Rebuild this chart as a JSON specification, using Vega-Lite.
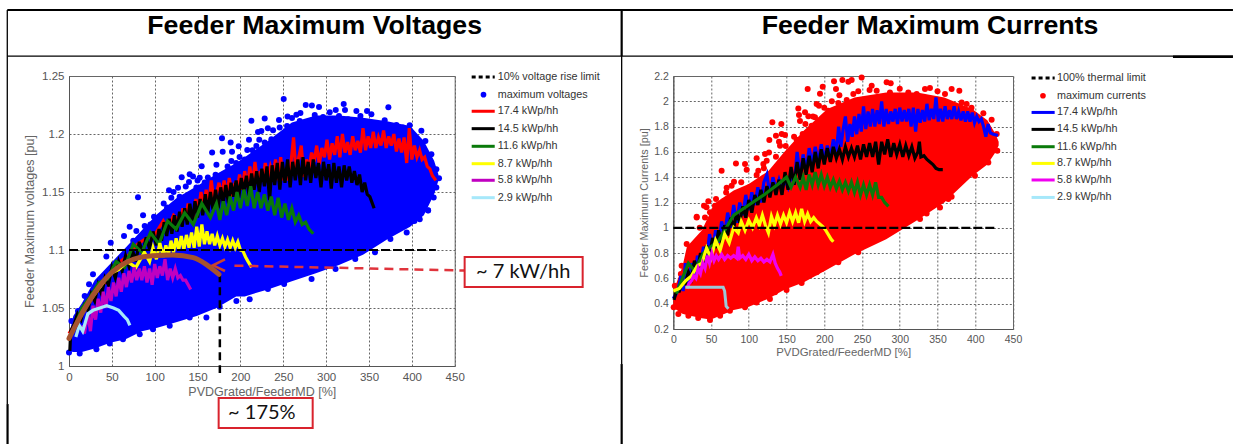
{"$schema":"https://vega.github.io/schema/vega-lite/v6.json","background":"white","padding":{"left":5,"top":8,"right":0,"bottom":0},"bounds":"flush","spacing":218.3,"resolve":{"scale":{"color":"independent"}},"config":{"font":"Liberation Sans","axis":{"grid":true,"gridDash":[2,2],"gridColor":"#666","gridOpacity":1,"gridWidth":1,"domainColor":"#555","ticks":false,"labelColor":"#555","titleColor":"#666","labelFontSize":10.5,"titleFontSize":11,"titleFontWeight":"normal","labelPadding":5,"labelFlush":false,"labelOverlap":false},"view":{"stroke":"#666"}},"hconcat":[{"width":385.7,"height":290,"encoding":{"x":{"field":"x","type":"quantitative","scale":{"domain":[0,450],"nice":false,"zero":false},"axis":{"values":[0,50,100,150,200,250,300,350,400,450],"title":"PVDGrated/FeederMD [%]","titlePadding":3,"titleFontSize":12.5,"labelFontSize":11.5}},"y":{"field":"y","type":"quantitative","scale":{"domain":[1,1.25],"nice":false,"zero":false},"axis":{"values":[1,1.05,1.1,1.15,1.2,1.25],"format":"~g","title":"Feeder Maximum voltages [pu]","titlePadding":5,"titleFontSize":12.6,"labelFontSize":11.5}}},"layer":[{"mark":{"type":"area","opacity":1,"color":"#0000ff"},"data":{"values":[{"x":0,"y":1.013,"y2":1.026},{"x":5,"y":1.012,"y2":1.043},{"x":15,"y":1.012,"y2":1.054},{"x":30,"y":1.015,"y2":1.074},{"x":48,"y":1.02,"y2":1.088},{"x":66,"y":1.023,"y2":1.102},{"x":85,"y":1.03,"y2":1.117},{"x":103,"y":1.033,"y2":1.131},{"x":126,"y":1.038,"y2":1.145},{"x":149,"y":1.043,"y2":1.155},{"x":172,"y":1.05,"y2":1.1655},{"x":195,"y":1.06,"y2":1.175},{"x":205,"y":1.06,"y2":1.18},{"x":232,"y":1.066,"y2":1.194},{"x":260,"y":1.073,"y2":1.21},{"x":288,"y":1.08,"y2":1.216},{"x":315,"y":1.087,"y2":1.216},{"x":343,"y":1.096,"y2":1.214},{"x":371,"y":1.109,"y2":1.211},{"x":398,"y":1.12,"y2":1.207},{"x":414,"y":1.13,"y2":1.194},{"x":426,"y":1.148,"y2":1.177},{"x":431,"y":1.16,"y2":1.165}]},"encoding":{"y2":{"field":"y2"}}},{"mark":{"type":"point","filled":true,"size":36,"opacity":1,"color":"#0000ff"},"data":{"values":[{"x":80.5,"y":1.1455},{"x":86.4,"y":1.13},{"x":212.8,"y":1.2115},{"x":220.5,"y":1.2018},{"x":178.5,"y":1.1963},{"x":188.6,"y":1.1926},{"x":198,"y":1.1894},{"x":167,"y":1.184},{"x":179.3,"y":1.1846},{"x":190.2,"y":1.1846},{"x":208,"y":1.1863},{"x":214,"y":1.186},{"x":199,"y":1.1802},{"x":189.4,"y":1.1768},{"x":172,"y":1.1734},{"x":154.8,"y":1.1722},{"x":140.8,"y":1.1653},{"x":144.7,"y":1.1633},{"x":131.5,"y":1.1627},{"x":152.5,"y":1.1622},{"x":162,"y":1.1625},{"x":140,"y":1.1587},{"x":158.3,"y":1.1582},{"x":171,"y":1.1648},{"x":127.2,"y":1.1536},{"x":116.7,"y":1.1516},{"x":136.2,"y":1.1547},{"x":148.6,"y":1.1538},{"x":119.4,"y":1.145},{"x":129.1,"y":1.1458},{"x":110.5,"y":1.14},{"x":114.4,"y":1.1366},{"x":99.2,"y":1.1286},{"x":105.8,"y":1.128},{"x":168,"y":1.1538},{"x":179.7,"y":1.1567},{"x":191.4,"y":1.1653},{"x":201,"y":1.1625},{"x":218.6,"y":1.1897},{"x":185,"y":1.172},{"x":195,"y":1.175},{"x":205,"y":1.178},{"x":210,"y":1.195},{"x":222,"y":1.195},{"x":232,"y":1.205},{"x":245,"y":1.212},{"x":255,"y":1.215},{"x":270,"y":1.218},{"x":150,"y":1.16},{"x":122,"y":1.15},{"x":95,"y":1.122},{"x":75,"y":1.108},{"x":250.5,"y":1.2302},{"x":276.2,"y":1.225},{"x":283.4,"y":1.2245},{"x":291.7,"y":1.2233},{"x":228.3,"y":1.2133},{"x":320.5,"y":1.2259},{"x":322,"y":1.2207},{"x":372.6,"y":1.223},{"x":265.3,"y":1.2167},{"x":260.2,"y":1.2138},{"x":286.7,"y":1.2164},{"x":304.2,"y":1.2187},{"x":311.2,"y":1.2207},{"x":315,"y":1.2156},{"x":335.3,"y":1.2199},{"x":347.7,"y":1.2199},{"x":340,"y":1.2156},{"x":352.8,"y":1.217},{"x":296.4,"y":1.2147},{"x":278.9,"y":1.2098},{"x":269.2,"y":1.2113},{"x":245.8,"y":1.2055},{"x":238.1,"y":1.2032},{"x":254.4,"y":1.2069},{"x":411.1,"y":1.2029},{"x":368.3,"y":1.2118},{"x":382,"y":1.2078},{"x":397.5,"y":1.2075},{"x":389.7,"y":1.2055},{"x":325.6,"y":1.2127},{"x":335.3,"y":1.2098},{"x":224.4,"y":1.2026},{"x":236.1,"y":1.1955},{"x":228.3,"y":1.1926},{"x":265.3,"y":1.2026},{"x":415.8,"y":1.194},{"x":422.8,"y":1.1826},{"x":428.6,"y":1.1696},{"x":431.7,"y":1.1619},{"x":428.6,"y":1.1539},{"x":425.5,"y":1.1452},{"x":418.9,"y":1.1343},{"x":409.2,"y":1.1266},{"x":48.7,"y":1.1063},{"x":70.8,"y":1.1201},{"x":64.2,"y":1.1121},{"x":78.6,"y":1.1164},{"x":88.3,"y":1.1207},{"x":43.6,"y":1.0943},{"x":28,"y":1.0791},{"x":23.4,"y":1.0705},{"x":18.3,"y":1.0604},{"x":10.5,"y":1.0475},{"x":2.8,"y":1.0389},{"x":0,"y":1.0116},{"x":12.5,"y":1.0108},{"x":32,"y":1.0145},{"x":47.5,"y":1.0194},{"x":63,"y":1.0231},{"x":82.5,"y":1.0274},{"x":98,"y":1.0317},{"x":117.5,"y":1.0346},{"x":140.8,"y":1.0418},{"x":160.3,"y":1.0418},{"x":175.8,"y":1.051},{"x":195.3,"y":1.0561},{"x":210.8,"y":1.0576},{"x":232,"y":1.0664},{"x":251,"y":1.0707},{"x":283,"y":1.075},{"x":311,"y":1.0836},{"x":334,"y":1.0922},{"x":357,"y":1.098},{"x":375,"y":1.1095},{"x":394,"y":1.115},{"x":403,"y":1.125},{"x":419,"y":1.134}]}},{"mark":{"type":"line","strokeWidth":3.2,"color":"#ff0000"},"data":{"values":[{"x":0,"y":1.028},{"x":10,"y":1.04},{"x":20,"y":1.05},{"x":30,"y":1.062},{"x":40,"y":1.07},{"x":50,"y":1.08},{"x":60,"y":1.09},{"x":70,"y":1.096},{"x":80,"y":1.105},{"x":90,"y":1.11},{"x":100,"y":1.113},{"x":110,"y":1.125},{"x":115,"y":1.118},{"x":122,"y":1.13},{"x":130,"y":1.124},{"x":133,"y":1.136},{"x":136,"y":1.126},{"x":139,"y":1.14},{"x":142,"y":1.13},{"x":145,"y":1.128},{"x":148,"y":1.144},{"x":151,"y":1.133},{"x":154,"y":1.15},{"x":157,"y":1.136},{"x":160,"y":1.152},{"x":163,"y":1.14},{"x":166,"y":1.16},{"x":169,"y":1.142},{"x":172,"y":1.148},{"x":175,"y":1.158},{"x":178,"y":1.146},{"x":181,"y":1.16},{"x":184,"y":1.147},{"x":187,"y":1.162},{"x":190,"y":1.15},{"x":193,"y":1.156},{"x":196,"y":1.15},{"x":199,"y":1.165},{"x":202,"y":1.152},{"x":205,"y":1.168},{"x":208,"y":1.154},{"x":211,"y":1.172},{"x":214,"y":1.156},{"x":217,"y":1.176},{"x":220,"y":1.158},{"x":223,"y":1.168},{"x":226,"y":1.16},{"x":229,"y":1.175},{"x":232,"y":1.162},{"x":235,"y":1.172},{"x":238,"y":1.165},{"x":241,"y":1.178},{"x":244,"y":1.16},{"x":247,"y":1.18},{"x":250,"y":1.16},{"x":253,"y":1.17},{"x":256,"y":1.16},{"x":259,"y":1.175},{"x":262,"y":1.197},{"x":265,"y":1.165},{"x":268,"y":1.18},{"x":271,"y":1.19},{"x":274,"y":1.163},{"x":277,"y":1.178},{"x":280,"y":1.17},{"x":283,"y":1.184},{"x":286,"y":1.176},{"x":289,"y":1.19},{"x":292,"y":1.174},{"x":295,"y":1.188},{"x":298,"y":1.18},{"x":301,"y":1.195},{"x":304,"y":1.178},{"x":307,"y":1.192},{"x":310,"y":1.182},{"x":313,"y":1.198},{"x":316,"y":1.18},{"x":319,"y":1.2},{"x":322,"y":1.184},{"x":325,"y":1.193},{"x":328,"y":1.182},{"x":331,"y":1.198},{"x":334,"y":1.186},{"x":337,"y":1.194},{"x":340,"y":1.184},{"x":343,"y":1.205},{"x":346,"y":1.186},{"x":349,"y":1.198},{"x":352,"y":1.188},{"x":355,"y":1.202},{"x":358,"y":1.188},{"x":361,"y":1.197},{"x":364,"y":1.19},{"x":367,"y":1.203},{"x":370,"y":1.188},{"x":373,"y":1.198},{"x":376,"y":1.19},{"x":379,"y":1.2},{"x":382,"y":1.185},{"x":385,"y":1.196},{"x":388,"y":1.184},{"x":391,"y":1.197},{"x":394,"y":1.175},{"x":397,"y":1.205},{"x":400,"y":1.178},{"x":403,"y":1.19},{"x":406,"y":1.18},{"x":409,"y":1.186},{"x":412,"y":1.178},{"x":415,"y":1.18},{"x":418,"y":1.172},{"x":421,"y":1.17},{"x":424,"y":1.164},{"x":428,"y":1.16}]}},{"mark":{"type":"line","strokeWidth":3.2,"color":"#000000"},"data":{"values":[{"x":1,"y":1.013},{"x":2,"y":1.03},{"x":6,"y":1.036},{"x":10,"y":1.045},{"x":14,"y":1.04},{"x":18,"y":1.052},{"x":22,"y":1.048},{"x":26,"y":1.062},{"x":30,"y":1.056},{"x":34,"y":1.07},{"x":38,"y":1.062},{"x":42,"y":1.076},{"x":46,"y":1.07},{"x":50,"y":1.085},{"x":54,"y":1.076},{"x":58,"y":1.09},{"x":62,"y":1.082},{"x":66,"y":1.095},{"x":70,"y":1.086},{"x":74,"y":1.1},{"x":78,"y":1.09},{"x":82,"y":1.107},{"x":86,"y":1.097},{"x":90,"y":1.111},{"x":94,"y":1.101},{"x":98,"y":1.116},{"x":102,"y":1.104},{"x":105,"y":1.118},{"x":108,"y":1.108},{"x":111,"y":1.124},{"x":114,"y":1.112},{"x":117,"y":1.127},{"x":120,"y":1.114},{"x":123,"y":1.13},{"x":126,"y":1.116},{"x":129,"y":1.133},{"x":132,"y":1.12},{"x":135,"y":1.136},{"x":138,"y":1.122},{"x":141,"y":1.14},{"x":144,"y":1.124},{"x":147,"y":1.142},{"x":150,"y":1.128},{"x":153,"y":1.144},{"x":156,"y":1.13},{"x":159,"y":1.148},{"x":162,"y":1.132},{"x":165,"y":1.15},{"x":168,"y":1.135},{"x":171,"y":1.152},{"x":174,"y":1.136},{"x":177,"y":1.154},{"x":180,"y":1.14},{"x":183,"y":1.156},{"x":186,"y":1.14},{"x":189,"y":1.158},{"x":192,"y":1.146},{"x":195,"y":1.16},{"x":198,"y":1.145},{"x":201,"y":1.162},{"x":204,"y":1.15},{"x":207,"y":1.164},{"x":210,"y":1.147},{"x":213,"y":1.166},{"x":216,"y":1.152},{"x":219,"y":1.168},{"x":222,"y":1.15},{"x":225,"y":1.17},{"x":228,"y":1.155},{"x":231,"y":1.172},{"x":234,"y":1.143},{"x":237,"y":1.173},{"x":240,"y":1.156},{"x":243,"y":1.175},{"x":246,"y":1.152},{"x":249,"y":1.176},{"x":252,"y":1.158},{"x":255,"y":1.178},{"x":258,"y":1.154},{"x":261,"y":1.176},{"x":264,"y":1.16},{"x":267,"y":1.178},{"x":270,"y":1.156},{"x":273,"y":1.18},{"x":276,"y":1.16},{"x":279,"y":1.176},{"x":282,"y":1.158},{"x":285,"y":1.178},{"x":288,"y":1.162},{"x":291,"y":1.175},{"x":294,"y":1.154},{"x":297,"y":1.176},{"x":300,"y":1.16},{"x":303,"y":1.174},{"x":306,"y":1.153},{"x":309,"y":1.175},{"x":312,"y":1.158},{"x":315,"y":1.172},{"x":318,"y":1.154},{"x":321,"y":1.173},{"x":324,"y":1.16},{"x":327,"y":1.172},{"x":330,"y":1.158},{"x":333,"y":1.168},{"x":336,"y":1.156},{"x":339,"y":1.165},{"x":342,"y":1.15},{"x":345,"y":1.158},{"x":348,"y":1.148},{"x":351,"y":1.146},{"x":354,"y":1.14},{"x":356,"y":1.136}]}},{"mark":{"type":"line","strokeWidth":3.2,"color":"#0a7a0a"},"data":{"values":[{"x":5,"y":1.03},{"x":15,"y":1.05},{"x":25,"y":1.06},{"x":35,"y":1.072},{"x":45,"y":1.075},{"x":55,"y":1.09},{"x":65,"y":1.085},{"x":75,"y":1.105},{"x":85,"y":1.098},{"x":95,"y":1.115},{"x":105,"y":1.105},{"x":115,"y":1.125},{"x":125,"y":1.118},{"x":135,"y":1.132},{"x":145,"y":1.122},{"x":155,"y":1.14},{"x":165,"y":1.128},{"x":172,"y":1.14},{"x":176,"y":1.126},{"x":180,"y":1.142},{"x":184,"y":1.13},{"x":188,"y":1.146},{"x":192,"y":1.134},{"x":196,"y":1.15},{"x":200,"y":1.136},{"x":204,"y":1.152},{"x":208,"y":1.138},{"x":212,"y":1.155},{"x":216,"y":1.136},{"x":220,"y":1.15},{"x":224,"y":1.136},{"x":228,"y":1.148},{"x":232,"y":1.134},{"x":236,"y":1.146},{"x":240,"y":1.13},{"x":244,"y":1.145},{"x":248,"y":1.128},{"x":252,"y":1.14},{"x":256,"y":1.126},{"x":260,"y":1.136},{"x":264,"y":1.124},{"x":268,"y":1.13},{"x":272,"y":1.122},{"x":276,"y":1.124},{"x":280,"y":1.118},{"x":285,"y":1.114}]}},{"mark":{"type":"line","strokeWidth":3.2,"color":"#ffff00"},"data":{"values":[{"x":8,"y":1.035},{"x":18,"y":1.05},{"x":28,"y":1.06},{"x":38,"y":1.07},{"x":48,"y":1.08},{"x":58,"y":1.083},{"x":68,"y":1.09},{"x":78,"y":1.085},{"x":88,"y":1.098},{"x":94,"y":1.09},{"x":98,"y":1.102},{"x":102,"y":1.092},{"x":106,"y":1.106},{"x":110,"y":1.094},{"x":113,"y":1.104},{"x":116,"y":1.096},{"x":119,"y":1.108},{"x":122,"y":1.098},{"x":125,"y":1.11},{"x":128,"y":1.1},{"x":131,"y":1.112},{"x":134,"y":1.1},{"x":137,"y":1.113},{"x":140,"y":1.102},{"x":143,"y":1.115},{"x":146,"y":1.102},{"x":149,"y":1.12},{"x":152,"y":1.103},{"x":155,"y":1.122},{"x":158,"y":1.105},{"x":161,"y":1.116},{"x":164,"y":1.105},{"x":167,"y":1.114},{"x":170,"y":1.104},{"x":173,"y":1.112},{"x":176,"y":1.104},{"x":179,"y":1.11},{"x":182,"y":1.103},{"x":185,"y":1.109},{"x":188,"y":1.102},{"x":191,"y":1.108},{"x":194,"y":1.102},{"x":197,"y":1.107},{"x":200,"y":1.1},{"x":203,"y":1.099},{"x":206,"y":1.094},{"x":209,"y":1.09},{"x":213,"y":1.085}]}},{"mark":{"type":"line","strokeWidth":3.2,"color":"#c000c0"},"data":{"values":[{"x":15,"y":1.035},{"x":18,"y":1.028},{"x":22,"y":1.045},{"x":25,"y":1.03},{"x":28,"y":1.052},{"x":31,"y":1.04},{"x":34,"y":1.058},{"x":37,"y":1.046},{"x":40,"y":1.064},{"x":43,"y":1.05},{"x":46,"y":1.068},{"x":49,"y":1.056},{"x":52,"y":1.072},{"x":55,"y":1.06},{"x":58,"y":1.076},{"x":61,"y":1.064},{"x":64,"y":1.08},{"x":67,"y":1.068},{"x":70,"y":1.082},{"x":73,"y":1.072},{"x":76,"y":1.085},{"x":79,"y":1.074},{"x":82,"y":1.084},{"x":85,"y":1.074},{"x":88,"y":1.086},{"x":91,"y":1.072},{"x":94,"y":1.084},{"x":97,"y":1.07},{"x":100,"y":1.088},{"x":103,"y":1.076},{"x":106,"y":1.086},{"x":109,"y":1.078},{"x":112,"y":1.092},{"x":115,"y":1.074},{"x":118,"y":1.084},{"x":121,"y":1.076},{"x":124,"y":1.084},{"x":127,"y":1.076},{"x":130,"y":1.078},{"x":133,"y":1.074},{"x":136,"y":1.074},{"x":139,"y":1.07},{"x":142,"y":1.066}]}},{"mark":{"type":"line","strokeWidth":3.2,"color":"#a6e8fa"},"data":{"values":[{"x":8,"y":1.025},{"x":12,"y":1.035},{"x":16,"y":1.03},{"x":22,"y":1.045},{"x":28,"y":1.048},{"x":36,"y":1.05},{"x":44,"y":1.052},{"x":52,"y":1.05},{"x":58,"y":1.048},{"x":64,"y":1.043},{"x":68,"y":1.04},{"x":71,"y":1.035}]}},{"mark":{"type":"line","strokeWidth":2.2,"strokeDash":[9,3],"color":"#000000"},"data":{"values":[{"x":0,"y":1.1},{"x":428,"y":1.1}]}},{"mark":{"type":"line","color":"#000","strokeWidth":2.5,"strokeDash":[8,5]},"data":{"values":[{"x":176,"y":1.079},{"x":176,"y":0.994}]}},{"mark":{"type":"line","color":"#e0343c","strokeWidth":2.5,"strokeDash":[9,6]},"data":{"values":[{"x":193,"y":1.0865},{"x":470,"y":1.0822}]}},{"mark":{"type":"line","color":"#a5522d","strokeWidth":5,"strokeCap":"round","interpolate":"monotone"},"data":{"values":[{"x":0,"y":1.0237},{"x":12.4,"y":1.0417},{"x":28,"y":1.061},{"x":43.5,"y":1.076},{"x":59,"y":1.086},{"x":75,"y":1.092},{"x":98,"y":1.095},{"x":121,"y":1.0957},{"x":145,"y":1.0934},{"x":160,"y":1.0876},{"x":175,"y":1.079}]}},{"mark":{"type":"line","color":"#c8452e","strokeWidth":2.5},"data":{"values":[{"i":1,"x":182,"y":1.092},{"i":2,"x":168,"y":1.0868},{"i":3,"x":182,"y":1.0819}]},"encoding":{"order":{"field":"i"}}},{"mark":{"type":"rect","fill":"white","stroke":"#d9232d","strokeWidth":2},"data":{"values":[{"x":461.6,"x2":599.3,"y":1.094,"y2":1.068},{"x":174.6,"x2":284.3,"y":0.9724,"y2":0.9466}]},"encoding":{"x2":{"field":"x2"},"y2":{"field":"y2"}}},{"mark":{"type":"text","font":"Lato","fontSize":20,"color":"#111","align":"center","baseline":"middle"},"data":{"values":[{"x":530,"y":1.081,"t":"~ 7 kW/hh"},{"x":225,"y":0.9595,"t":"~ 175%"}]},"encoding":{"text":{"field":"t"}}},{"mark":{"type":"rule","strokeWidth":3},"data":{"values":[{"x":469.8,"x2":496.7,"y":1.2196,"t":"17.4 kWp/hh"},{"x":469.8,"x2":496.7,"y":1.2046,"t":"14.5 kWp/hh"},{"x":469.8,"x2":496.7,"y":1.1894,"t":"11.6 kWp/hh"},{"x":469.8,"x2":496.7,"y":1.1744,"t":"8.7 kWp/hh"},{"x":469.8,"x2":496.7,"y":1.1601,"t":"5.8 kWp/hh"},{"x":469.8,"x2":496.7,"y":1.1451,"t":"2.9 kWp/hh"}]},"encoding":{"x2":{"field":"x2"},"color":{"field":"t","type":"nominal","legend":null,"scale":{"domain":["17.4 kWp/hh","14.5 kWp/hh","11.6 kWp/hh","8.7 kWp/hh","5.8 kWp/hh","2.9 kWp/hh"],"range":["#ff0000","#000000","#0a7a0a","#ffff00","#c000c0","#a6e8fa"]}}}},{"mark":{"type":"rule","strokeWidth":3,"color":"#000","strokeDash":[4,3]},"data":{"values":[{"x":469.8,"x2":496.7,"y":1.2491}]},"encoding":{"x2":{"field":"x2"}}},{"mark":{"type":"point","filled":true,"size":32,"opacity":1,"color":"#0000ff"},"data":{"values":[{"x":483.6,"y":1.2339}]}},{"mark":{"type":"text","align":"left","baseline":"middle","fontSize":10.8,"color":"#333"},"data":{"values":[{"x":500.2,"y":1.2491,"t":"10% voltage rise limit"},{"x":500.2,"y":1.2339,"t":"maximum voltages"},{"x":500.2,"y":1.2196,"t":"17.4 kWp/hh"},{"x":500.2,"y":1.2046,"t":"14.5 kWp/hh"},{"x":500.2,"y":1.1894,"t":"11.6 kWp/hh"},{"x":500.2,"y":1.1744,"t":"8.7 kWp/hh"},{"x":500.2,"y":1.1601,"t":"5.8 kWp/hh"},{"x":500.2,"y":1.1451,"t":"2.9 kWp/hh"}]},"encoding":{"text":{"field":"t"}}},{"mark":{"type":"rule","color":"#000","strokeWidth":2},"data":{"values":[{"x":-72,"x2":1358,"y":1.3069}]},"encoding":{"x2":{"field":"x2"}}},{"mark":{"type":"rule","color":"#000","strokeWidth":1.3},"data":{"values":[{"x":-72,"x2":1358,"y":1.2672}]},"encoding":{"x2":{"field":"x2"}}},{"mark":{"type":"rule","color":"#000","strokeWidth":2.5},"data":{"values":[{"x":1288,"x2":1358,"y":1.2665}]},"encoding":{"x2":{"field":"x2"}}},{"mark":{"type":"rule","color":"#000","strokeWidth":1.3},"data":{"values":[{"x":-72,"y":1.3069,"y2":0.9672},{"x":644.8,"y":1.2672,"y2":1.0017}]},"encoding":{"y2":{"field":"y2"}}},{"mark":{"type":"rule","color":"#000","strokeWidth":2.2},"data":{"values":[{"x":-71.7,"y":0.9672,"y2":0.9319},{"x":644.8,"y":1.3069,"y2":1.2672},{"x":644.8,"y":1.0017,"y2":0.9319}]},"encoding":{"y2":{"field":"y2"}}},{"mark":{"type":"text","fontSize":26.7,"fontWeight":"bold","color":"#000","align":"center","baseline":"alphabetic"},"data":{"values":[{"x":286.6,"y":1.2862,"t":"Feeder Maximum Voltages"}]},"encoding":{"text":{"field":"t"}}}]},{"width":339.7,"height":253,"encoding":{"x":{"field":"x","type":"quantitative","scale":{"domain":[0,450],"nice":false,"zero":false},"axis":{"values":[0,50,100,150,200,250,300,350,400,450],"title":"PVDGrated/FeederMD [%]","titlePadding":2,"titleFontSize":11.4}},"y":{"field":"y","type":"quantitative","scale":{"domain":[0.2,2.2],"nice":false,"zero":false},"axis":{"values":[0.2,0.4,0.6,0.8,1,1.2,1.4,1.6,1.8,2,2.2],"format":"~g","title":"Feeder Maximum  Currents [pu]","titlePadding":4,"titleFontSize":10.8}}},"layer":[{"mark":{"type":"area","opacity":1,"color":"#ff0000"},"data":{"values":[{"x":0,"y":0.37,"y2":0.44},{"x":2,"y":0.36,"y2":0.53},{"x":12,"y":0.32,"y2":0.69},{"x":18,"y":0.31,"y2":0.85},{"x":38,"y":0.285,"y2":0.98},{"x":49,"y":0.275,"y2":1.12},{"x":54,"y":0.285,"y2":1.19},{"x":80,"y":0.35,"y2":1.295},{"x":100,"y":0.375,"y2":1.347},{"x":126,"y":0.44,"y2":1.45},{"x":147,"y":0.51,"y2":1.6},{"x":173,"y":0.57,"y2":1.77},{"x":204,"y":0.67,"y2":1.94},{"x":240,"y":0.79,"y2":2.03},{"x":282,"y":0.91,"y2":2.07},{"x":323,"y":1.06,"y2":2.07},{"x":359,"y":1.2,"y2":2.03},{"x":396,"y":1.41,"y2":1.94},{"x":416,"y":1.5,"y2":1.85},{"x":427,"y":1.6,"y2":1.74},{"x":431,"y":1.65,"y2":1.68}]},"encoding":{"y2":{"field":"y2"}}},{"mark":{"type":"point","filled":true,"size":36,"opacity":1,"color":"#ff0000"},"data":{"values":[{"x":178,"y":2.097},{"x":197.9,"y":2.1154},{"x":212.9,"y":2.1576},{"x":224,"y":2.168},{"x":231.9,"y":2.155},{"x":236.3,"y":2.168},{"x":249.5,"y":2.189},{"x":194.3,"y":2.06},{"x":215.5,"y":2.097},{"x":220,"y":2.047},{"x":189.9,"y":1.978},{"x":193,"y":1.965},{"x":205.4,"y":1.926},{"x":218.6,"y":1.986},{"x":229.7,"y":2.01},{"x":238.5,"y":2.057},{"x":165.6,"y":1.944},{"x":174.5,"y":1.9125},{"x":166.5,"y":1.8915},{"x":167.8,"y":1.844},{"x":178.9,"y":1.881},{"x":187.7,"y":1.873},{"x":131.2,"y":1.8335},{"x":143.1,"y":1.82},{"x":183.3,"y":1.807},{"x":196.6,"y":1.847},{"x":136,"y":1.728},{"x":143.6,"y":1.741},{"x":148,"y":1.733},{"x":127.2,"y":1.694},{"x":140,"y":1.681},{"x":148.9,"y":1.646},{"x":141.4,"y":1.649},{"x":163.4,"y":1.696},{"x":171.4,"y":1.741},{"x":110.4,"y":1.549},{"x":126.8,"y":1.596},{"x":121.5,"y":1.583},{"x":136,"y":1.562},{"x":123.7,"y":1.53},{"x":64,"y":1.451},{"x":83,"y":1.509},{"x":95,"y":1.504},{"x":97.2,"y":1.459},{"x":112.6,"y":1.451},{"x":110.4,"y":1.417},{"x":119.3,"y":1.504},{"x":80.4,"y":1.364},{"x":70.7,"y":1.317},{"x":77.3,"y":1.333},{"x":101.6,"y":1.325},{"x":56.6,"y":1.227},{"x":46.4,"y":1.209},{"x":40.7,"y":1.175},{"x":55.2,"y":1.175},{"x":66.3,"y":1.209},{"x":31,"y":1.082},{"x":42,"y":1.082},{"x":48.6,"y":1.122},{"x":282.6,"y":2.15},{"x":288,"y":2.142},{"x":262.8,"y":2.123},{"x":269.4,"y":2.084},{"x":333.4,"y":2.097},{"x":340,"y":2.105},{"x":368.7,"y":2.097},{"x":378.9,"y":2.084},{"x":311.3,"y":2.07},{"x":287,"y":2.07},{"x":359.9,"y":2.057},{"x":388.6,"y":1.978},{"x":410.7,"y":1.905},{"x":421.7,"y":1.854},{"x":428.4,"y":1.741},{"x":429.2,"y":1.61},{"x":417.3,"y":1.517},{"x":399.6,"y":1.412},{"x":368.7,"y":1.246},{"x":364.3,"y":1.227},{"x":353.3,"y":1.16},{"x":335.6,"y":1.114},{"x":326.8,"y":1.069},{"x":258.3,"y":2.018},{"x":231.8,"y":1.965},{"x":406.3,"y":1.86},{"x":382,"y":1.99},{"x":322.4,"y":2.057},{"x":0.5,"y":0.371},{"x":6.7,"y":0.318},{"x":20,"y":0.305},{"x":33,"y":0.287},{"x":48.6,"y":0.271},{"x":62,"y":0.305},{"x":75,"y":0.345},{"x":95,"y":0.371},{"x":110.4,"y":0.41},{"x":128,"y":0.437},{"x":134.7,"y":0.49},{"x":150,"y":0.508},{"x":170,"y":0.563},{"x":172,"y":0.621},{"x":190,"y":0.648},{"x":196.6,"y":0.674},{"x":218.6,"y":0.727},{"x":245,"y":0.806},{"x":17.7,"y":0.872},{"x":31,"y":1.088},{"x":44,"y":1.162},{"x":22,"y":0.82},{"x":11,"y":0.7},{"x":10,"y":0.634},{"x":2,"y":0.542},{"x":59.6,"y":1.083},{"x":55,"y":1.135},{"x":160,"y":1.72},{"x":175,"y":1.82},{"x":185,"y":1.88},{"x":200,"y":1.95},{"x":210,"y":2.0},{"x":245,"y":2.08},{"x":260,"y":2.09},{"x":300,"y":2.1},{"x":350,"y":2.08},{"x":395,"y":1.95},{"x":120,"y":1.47},{"x":90,"y":1.36},{"x":70,"y":1.28},{"x":35,"y":1.0}]}},{"mark":{"type":"line","strokeWidth":3.2,"color":"#0000ff"},"data":{"values":[{"x":0,"y":0.44},{"x":6,"y":0.5},{"x":10,"y":0.62},{"x":13,"y":0.5},{"x":16,"y":0.72},{"x":20,"y":0.55},{"x":24,"y":0.72},{"x":28,"y":0.62},{"x":32,"y":0.78},{"x":36,"y":0.7},{"x":40,"y":0.85},{"x":44,"y":0.75},{"x":48,"y":0.95},{"x":52,"y":0.82},{"x":56,"y":0.98},{"x":60,"y":0.88},{"x":64,"y":1.05},{"x":68,"y":0.95},{"x":72,"y":1.12},{"x":76,"y":1},{"x":80,"y":1.18},{"x":84,"y":1.04},{"x":88,"y":1.2},{"x":92,"y":1.1},{"x":96,"y":1.26},{"x":100,"y":1.14},{"x":104,"y":1.28},{"x":108,"y":1.18},{"x":112,"y":1.32},{"x":116,"y":1.2},{"x":120,"y":1.36},{"x":124,"y":1.42},{"x":128,"y":1.26},{"x":132,"y":1.4},{"x":136,"y":1.3},{"x":140,"y":1.38},{"x":144,"y":1.3},{"x":148,"y":1.38},{"x":152,"y":1.32},{"x":156,"y":1.42},{"x":160,"y":1.34},{"x":164,"y":1.6},{"x":168,"y":1.42},{"x":172,"y":1.58},{"x":176,"y":1.46},{"x":180,"y":1.63},{"x":184,"y":1.5},{"x":188,"y":1.64},{"x":192,"y":1.52},{"x":196,"y":1.66},{"x":200,"y":1.54},{"x":204,"y":1.65},{"x":208,"y":1.56},{"x":212,"y":1.7},{"x":216,"y":1.6},{"x":219,"y":1.8},{"x":222,"y":1.64},{"x":225,"y":1.78},{"x":228,"y":1.88},{"x":231,"y":1.68},{"x":234,"y":1.82},{"x":237,"y":1.72},{"x":240,"y":1.88},{"x":243,"y":1.74},{"x":246,"y":1.9},{"x":249,"y":1.76},{"x":252,"y":1.96},{"x":255,"y":1.78},{"x":258,"y":1.92},{"x":261,"y":1.8},{"x":264,"y":1.94},{"x":267,"y":1.8},{"x":270,"y":1.93},{"x":273,"y":1.82},{"x":276,"y":2},{"x":279,"y":1.8},{"x":282,"y":1.94},{"x":285,"y":1.82},{"x":288,"y":1.92},{"x":291,"y":1.84},{"x":294,"y":1.94},{"x":297,"y":1.82},{"x":300,"y":1.95},{"x":303,"y":1.84},{"x":306,"y":1.93},{"x":309,"y":1.84},{"x":312,"y":1.94},{"x":315,"y":1.8},{"x":318,"y":1.95},{"x":321,"y":1.76},{"x":324,"y":1.94},{"x":327,"y":1.83},{"x":330,"y":1.93},{"x":333,"y":1.84},{"x":336,"y":1.98},{"x":339,"y":1.85},{"x":342,"y":1.94},{"x":345,"y":1.86},{"x":348,"y":2.03},{"x":351,"y":1.84},{"x":354,"y":1.94},{"x":357,"y":1.84},{"x":360,"y":1.96},{"x":363,"y":1.86},{"x":366,"y":1.93},{"x":369,"y":1.86},{"x":372,"y":1.96},{"x":375,"y":1.86},{"x":378,"y":1.92},{"x":381,"y":1.85},{"x":384,"y":1.92},{"x":387,"y":1.84},{"x":390,"y":1.92},{"x":393,"y":1.84},{"x":396,"y":1.91},{"x":399,"y":1.83},{"x":402,"y":1.88},{"x":405,"y":1.84},{"x":408,"y":1.86},{"x":411,"y":1.8},{"x":414,"y":1.72},{"x":417,"y":1.82},{"x":420,"y":1.75},{"x":424,"y":1.74},{"x":430,"y":1.73}]}},{"mark":{"type":"line","strokeWidth":3.2,"color":"#000000"},"data":{"values":[{"x":1,"y":0.43},{"x":4,"y":0.5},{"x":8,"y":0.5},{"x":12,"y":0.58},{"x":16,"y":0.56},{"x":20,"y":0.65},{"x":24,"y":0.6},{"x":28,"y":0.74},{"x":32,"y":0.66},{"x":36,"y":0.8},{"x":40,"y":0.72},{"x":44,"y":0.86},{"x":48,"y":0.78},{"x":52,"y":0.92},{"x":56,"y":0.84},{"x":60,"y":0.98},{"x":64,"y":0.88},{"x":68,"y":1.02},{"x":72,"y":0.94},{"x":76,"y":1.08},{"x":80,"y":1},{"x":84,"y":1.12},{"x":88,"y":1.04},{"x":92,"y":1.17},{"x":96,"y":1.08},{"x":100,"y":1.22},{"x":104,"y":1.12},{"x":108,"y":1.26},{"x":112,"y":1.18},{"x":116,"y":1.3},{"x":120,"y":1.2},{"x":124,"y":1.33},{"x":128,"y":1.24},{"x":132,"y":1.36},{"x":136,"y":1.26},{"x":140,"y":1.38},{"x":144,"y":1.26},{"x":148,"y":1.44},{"x":152,"y":1.3},{"x":156,"y":1.48},{"x":160,"y":1.34},{"x":164,"y":1.52},{"x":168,"y":1.38},{"x":172,"y":1.55},{"x":176,"y":1.42},{"x":180,"y":1.57},{"x":184,"y":1.44},{"x":188,"y":1.6},{"x":192,"y":1.47},{"x":196,"y":1.62},{"x":200,"y":1.5},{"x":204,"y":1.63},{"x":208,"y":1.52},{"x":212,"y":1.64},{"x":216,"y":1.55},{"x":220,"y":1.62},{"x":224,"y":1.54},{"x":228,"y":1.64},{"x":232,"y":1.56},{"x":236,"y":1.63},{"x":240,"y":1.56},{"x":244,"y":1.65},{"x":248,"y":1.54},{"x":252,"y":1.66},{"x":256,"y":1.56},{"x":260,"y":1.67},{"x":264,"y":1.56},{"x":268,"y":1.68},{"x":272,"y":1.5},{"x":276,"y":1.68},{"x":280,"y":1.58},{"x":284,"y":1.7},{"x":288,"y":1.56},{"x":292,"y":1.67},{"x":296,"y":1.58},{"x":300,"y":1.66},{"x":304,"y":1.56},{"x":308,"y":1.65},{"x":312,"y":1.57},{"x":316,"y":1.64},{"x":320,"y":1.55},{"x":324,"y":1.6},{"x":326,"y":1.68},{"x":328,"y":1.56},{"x":332,"y":1.57},{"x":336,"y":1.54},{"x":340,"y":1.52},{"x":344,"y":1.5},{"x":348,"y":1.47},{"x":352,"y":1.46},{"x":357,"y":1.46}]}},{"mark":{"type":"line","strokeWidth":3.2,"color":"#0a7a0a"},"data":{"values":[{"x":4,"y":0.48},{"x":20,"y":0.72},{"x":28,"y":0.66},{"x":40,"y":0.8},{"x":60,"y":0.9},{"x":80,"y":1.1},{"x":100,"y":1.18},{"x":120,"y":1.26},{"x":140,"y":1.35},{"x":150,"y":1.4},{"x":156,"y":1.32},{"x":162,"y":1.4},{"x":168,"y":1.32},{"x":172,"y":1.4},{"x":176,"y":1.3},{"x":180,"y":1.42},{"x":184,"y":1.34},{"x":188,"y":1.44},{"x":192,"y":1.34},{"x":196,"y":1.42},{"x":200,"y":1.33},{"x":204,"y":1.4},{"x":208,"y":1.32},{"x":212,"y":1.38},{"x":216,"y":1.31},{"x":220,"y":1.37},{"x":224,"y":1.3},{"x":228,"y":1.36},{"x":232,"y":1.29},{"x":236,"y":1.36},{"x":240,"y":1.28},{"x":244,"y":1.36},{"x":248,"y":1.26},{"x":252,"y":1.34},{"x":256,"y":1.26},{"x":260,"y":1.34},{"x":264,"y":1.26},{"x":268,"y":1.36},{"x":272,"y":1.24},{"x":276,"y":1.24},{"x":280,"y":1.2},{"x":285,"y":1.17}]}},{"mark":{"type":"line","strokeWidth":3.2,"color":"#ffff00"},"data":{"values":[{"x":0,"y":0.5},{"x":8,"y":0.52},{"x":16,"y":0.58},{"x":24,"y":0.62},{"x":32,"y":0.7},{"x":38,"y":0.72},{"x":44,"y":0.84},{"x":50,"y":0.76},{"x":56,"y":0.9},{"x":62,"y":0.82},{"x":68,"y":0.95},{"x":74,"y":0.88},{"x":80,"y":1},{"x":86,"y":0.96},{"x":90,"y":1.05},{"x":95,"y":0.98},{"x":100,"y":1.06},{"x":105,"y":1},{"x":110,"y":1.08},{"x":114,"y":1.02},{"x":118,"y":1.1},{"x":122,"y":1.02},{"x":126,"y":0.96},{"x":130,"y":1.09},{"x":134,"y":1.02},{"x":138,"y":1.1},{"x":142,"y":1.03},{"x":146,"y":1.1},{"x":150,"y":1.04},{"x":154,"y":1.12},{"x":158,"y":1.05},{"x":162,"y":1.12},{"x":166,"y":1.04},{"x":170,"y":1.15},{"x":174,"y":1.05},{"x":178,"y":1.11},{"x":182,"y":1.05},{"x":186,"y":1.08},{"x":190,"y":1.05},{"x":194,"y":1.03},{"x":198,"y":1.01},{"x":202,"y":0.98},{"x":206,"y":0.94},{"x":209,"y":0.91},{"x":212,"y":0.89}]}},{"mark":{"type":"line","strokeWidth":3.2,"color":"#f000f0"},"data":{"values":[{"x":18,"y":0.52},{"x":21,"y":0.56},{"x":24,"y":0.58},{"x":27,"y":0.62},{"x":30,"y":0.6},{"x":33,"y":0.68},{"x":36,"y":0.64},{"x":39,"y":0.72},{"x":42,"y":0.68},{"x":45,"y":0.78},{"x":48,"y":0.72},{"x":51,"y":0.8},{"x":54,"y":0.74},{"x":57,"y":0.78},{"x":60,"y":0.75},{"x":64,"y":0.79},{"x":68,"y":0.75},{"x":72,"y":0.78},{"x":76,"y":0.76},{"x":80,"y":0.78},{"x":84,"y":0.76},{"x":86,"y":0.85},{"x":88,"y":0.76},{"x":92,"y":0.78},{"x":96,"y":0.75},{"x":100,"y":0.79},{"x":104,"y":0.74},{"x":108,"y":0.77},{"x":112,"y":0.74},{"x":116,"y":0.76},{"x":120,"y":0.73},{"x":124,"y":0.75},{"x":128,"y":0.73},{"x":132,"y":0.79},{"x":135,"y":0.72},{"x":138,"y":0.68},{"x":141,"y":0.65},{"x":143,"y":0.62}]}},{"mark":{"type":"line","strokeWidth":3,"color":"#9cc9d8"},"data":{"values":[{"x":16,"y":0.53},{"x":20,"y":0.53},{"x":40,"y":0.53},{"x":66,"y":0.53},{"x":68,"y":0.5},{"x":69,"y":0.44},{"x":70,"y":0.38},{"x":73,"y":0.36}]}},{"mark":{"type":"line","strokeWidth":2.2,"strokeDash":[9,3],"color":"#000000"},"data":{"values":[{"x":0,"y":1},{"x":428,"y":1}]}},{"mark":{"type":"rule","strokeWidth":3},"data":{"values":[{"x":474.6,"x2":505.2,"y":1.912,"t":"17.4 kWp/hh"},{"x":474.6,"x2":505.2,"y":1.778,"t":"14.5 kWp/hh"},{"x":474.6,"x2":505.2,"y":1.641,"t":"11.6 kWp/hh"},{"x":474.6,"x2":505.2,"y":1.509,"t":"8.7 kWp/hh"},{"x":474.6,"x2":505.2,"y":1.378,"t":"5.8 kWp/hh"},{"x":474.6,"x2":505.2,"y":1.24,"t":"2.9 kWp/hh"}]},"encoding":{"x2":{"field":"x2"},"color":{"field":"t","type":"nominal","legend":null,"scale":{"domain":["17.4 kWp/hh","14.5 kWp/hh","11.6 kWp/hh","8.7 kWp/hh","5.8 kWp/hh","2.9 kWp/hh"],"range":["#0000ff","#000000","#0a7a0a","#ffff00","#f000f0","#a6e8fa"]}}}},{"mark":{"type":"rule","strokeWidth":3,"color":"#000","strokeDash":[4,3]},"data":{"values":[{"x":474.6,"x2":505.2,"y":2.184}]},"encoding":{"x2":{"field":"x2"}}},{"mark":{"type":"point","filled":true,"size":32,"opacity":1,"color":"#ff0000"},"data":{"values":[{"x":489.7,"y":2.044}]}},{"mark":{"type":"text","align":"left","baseline":"middle","fontSize":10.8,"color":"#333"},"data":{"values":[{"x":508.3,"y":2.184,"t":"100% thermal limit"},{"x":508.3,"y":2.044,"t":"maximum currents"},{"x":508.3,"y":1.912,"t":"17.4 kWp/hh"},{"x":508.3,"y":1.778,"t":"14.5 kWp/hh"},{"x":508.3,"y":1.641,"t":"11.6 kWp/hh"},{"x":508.3,"y":1.509,"t":"8.7 kWp/hh"},{"x":508.3,"y":1.378,"t":"5.8 kWp/hh"},{"x":508.3,"y":1.24,"t":"2.9 kWp/hh"}]},"encoding":{"text":{"field":"t"}}},{"mark":{"type":"text","fontSize":26.7,"fontWeight":"bold","color":"#000","align":"center","baseline":"alphabetic"},"data":{"values":[{"x":340,"y":2.5344,"t":"Feeder Maximum Currents"}]},"encoding":{"text":{"field":"t"}}}]}]}
